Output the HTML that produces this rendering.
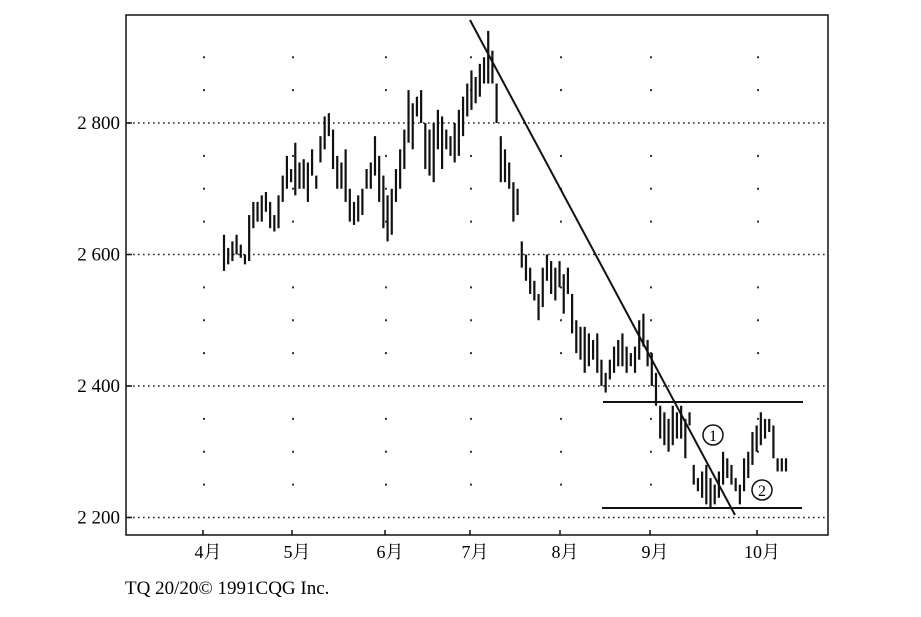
<!DOCTYPE html>
<html><head><meta charset="utf-8"><style>
body{margin:0;background:#fff;}
svg{display:block;font-family:"Liberation Serif","Noto Serif CJK SC",serif;}
</style></head><body>
<svg width="921" height="617" viewBox="0 0 921 617">
<rect x="126" y="15" width="702" height="520" fill="none" stroke="#111" stroke-width="1.5"/>
<g id="grid"></g><g id="bars"></g><g id="axes"></g>
<line x1="470" y1="20" x2="735" y2="515" stroke="#111" stroke-width="2"/>
<line x1="603" y1="402" x2="803" y2="402" stroke="#111" stroke-width="2"/>
<line x1="602" y1="508" x2="802" y2="508" stroke="#111" stroke-width="2"/>
<g><circle cx="713" cy="435" r="10" fill="#fff" stroke="#111" stroke-width="1.5"/><text x="713" y="441" font-size="16" text-anchor="middle">1</text></g>
<g><circle cx="762" cy="490" r="10" fill="#fff" stroke="#111" stroke-width="1.5"/><text x="762" y="496" font-size="16" text-anchor="middle">2</text></g>
<text x="125" y="594" font-size="19">TQ 20/20© 1991CQG Inc.</text>
</svg>
<script>
const yTicks=[2800,2600,2400,2200];
const yTickLabels=["2 800","2 600","2 400","2 200"];
const months=["4月","5月","6月","7月","8月","9月","10月"];
const monthX=[208,297,390,475,565,655,762];
const highs=[2630,2610,2620,2630,2615,2600,2660,2680,2680,2690,2695,2680,2660,2690,2720,2750,2730,2770,2740,2745,2740,2760,2720,2780,2810,2815,2790,2750,2740,2760,2700,2680,2690,2700,2730,2740,2780,2750,2720,2690,2700,2730,2760,2790,2850,2830,2840,2850,2800,2790,2800,2820,2810,2790,2780,2800,2820,2840,2860,2880,2870,2890,2900,2940,2910,2860,2780,2760,2740,2710,2700,2620,2600,2580,2560,2540,2580,2600,2590,2580,2590,2570,2580,2540,2500,2490,2490,2480,2470,2480,2440,2420,2440,2460,2470,2480,2460,2450,2460,2500,2510,2470,2450,2420,2370,2360,2350,2370,2360,2370,2350,2360,2280,2260,2270,2280,2260,2250,2270,2300,2290,2280,2260,2250,2290,2300,2330,2340,2360,2350,2350,2340,2290,2290,2290];
const lows=[2575,2585,2590,2600,2595,2585,2590,2640,2650,2650,2665,2640,2635,2640,2680,2700,2710,2690,2700,2700,2680,2720,2700,2740,2760,2780,2730,2700,2700,2680,2650,2645,2650,2660,2700,2700,2720,2680,2640,2620,2630,2680,2700,2730,2770,2760,2810,2800,2730,2720,2710,2760,2730,2760,2750,2740,2750,2780,2810,2820,2830,2840,2860,2860,2860,2800,2710,2710,2700,2650,2660,2580,2560,2540,2530,2500,2520,2560,2540,2530,2550,2510,2540,2480,2450,2440,2420,2430,2440,2420,2400,2390,2410,2420,2430,2430,2420,2430,2420,2440,2460,2430,2400,2370,2320,2310,2300,2310,2320,2320,2290,2340,2250,2240,2230,2220,2215,2220,2230,2250,2260,2250,2240,2220,2240,2260,2280,2300,2310,2320,2330,2290,2270,2270,2270];
const NS="http://www.w3.org/2000/svg";
const y=p=>123+(2800-p)*0.6575;
const x=i=>224+i*(786-224)/(highs.length-1);
function mk(t,a,parent){const e=document.createElementNS(NS,t);for(const k in a)e.setAttribute(k,a[k]);parent.appendChild(e);return e;}
const grid=document.getElementById('grid'),bars=document.getElementById('bars'),axes=document.getElementById('axes');
yTicks.forEach((v,i)=>{
 const l=mk('line',{x1:128,x2:826,y1:y(v),y2:y(v),stroke:'#222','stroke-width':1.6,'stroke-dasharray':'1.6 3.4'},grid);
 
 
 const t=mk('text',{x:120,y:y(v)+6,'font-size':19,'text-anchor':'end'},axes);t.textContent=yTickLabels[i];
 
 
 mk('line',{x1:126,x2:132,y1:y(v),y2:y(v),stroke:'#111','stroke-width':1.5},axes);
});
for(let p=2900;p>2150;p-=50){if(yTicks.includes(p))continue;monthX.forEach(mx=>{
 const d=mk('rect',{x:mx-5,y:y(p)-1,width:2,height:2,fill:'#333'},grid);
 
 
});}
months.forEach((m,i)=>{
 const t=mk('text',{x:monthX[i],y:558,'font-size':18,'text-anchor':'middle'},axes);t.textContent=m;
 
 
 mk('line',{x1:monthX[i]-5,x2:monthX[i]-5,y1:535,y2:530,stroke:'#111','stroke-width':1.5},axes);
});
highs.forEach((h,i)=>{
 const b=mk('line',{x1:x(i),x2:x(i),y1:y(h),y2:y(lows[i]),stroke:'#111','stroke-width':2.2},bars);
 
 
});
</script>
</body></html>
